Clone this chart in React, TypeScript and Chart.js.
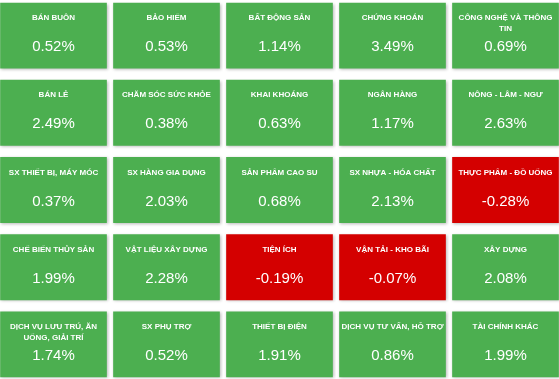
import React, { useEffect, useRef } from 'react';
import { Chart, registerables } from 'chart.js';

Chart.register(...registerables);

// Sector names in grid order (row by row, 5 per row)
const sectors = [
  'BÁN BUÔN', 'BẢO HIỂM', 'BẤT ĐỘNG SẢN', 'CHỨNG KHOÁN', 'CÔNG NGHỆ VÀ THÔNG TIN',
  'BÁN LẺ', 'CHĂM SÓC SỨC KHỎE', 'KHAI KHOÁNG', 'NGÂN HÀNG', 'NÔNG - LÂM - NGƯ',
  'SX THIẾT BỊ, MÁY MÓC', 'SX HÀNG GIA DỤNG', 'SẢN PHẨM CAO SU', 'SX NHỰA - HÓA CHẤT', 'THỰC PHẨM - ĐỒ UỐNG',
  'CHẾ BIẾN THỦY SẢN', 'VẬT LIỆU XÂY DỰNG', 'TIỆN ÍCH', 'VẬN TẢI - KHO BÃI', 'XÂY DỰNG',
  'DỊCH VỤ LƯU TRÚ, ĂN UỐNG, GIẢI TRÍ', 'SX PHỤ TRỢ', 'THIẾT BỊ ĐIỆN', 'DỊCH VỤ TƯ VẤN, HỖ TRỢ', 'TÀI CHÍNH KHÁC',
];

// % change for each sector, same order
const changes = [
  0.52, 0.53, 1.14, 3.49, 0.69,
  2.49, 0.38, 0.63, 1.17, 2.63,
  0.37, 2.03, 0.68, 2.13, -0.28,
  1.99, 2.28, -0.19, -0.07, 2.08,
  1.74, 0.52, 1.91, 0.86, 1.99,
];

const columns = ['C1', 'C2', 'C3', 'C4', 'C5'];
const rows = ['R1', 'R2', 'R3', 'R4', 'R5'];

const GREEN = '#4CAF50';
const RED = '#D40000';
const FONT = '"Liberation Sans", Arial, Helvetica, sans-serif';

function wrapText(ctx: CanvasRenderingContext2D, text: string, maxWidth: number): string[] {
  const words = text.split(' ');
  const lines: string[] = [];
  let cur = '';
  for (const w of words) {
    const test = cur ? cur + ' ' + w : w;
    if (cur && ctx.measureText(test).width > maxWidth) {
      lines.push(cur);
      cur = w;
    } else {
      cur = test;
    }
  }
  if (cur) lines.push(cur);
  return lines;
}

const GAP_X = 3.5;
const GAP_Y = 6;

const tilePlugin = {
  id: 'tileText',
  beforeDatasetDraw(chart: any) {
    const ctx = chart.ctx;
    ctx.save();
    ctx.shadowColor = 'rgba(0,0,0,0.28)';
    ctx.shadowBlur = 3;
    ctx.shadowOffsetX = 1;
    ctx.shadowOffsetY = 1;
  },
  afterDatasetDraw(chart: any) {
    chart.ctx.restore();
  },
  afterDatasetsDraw(chart: any) {
    const ctx: CanvasRenderingContext2D = chart.ctx;
    ctx.save();
    ctx.fillStyle = '#ffffff';
    ctx.textAlign = 'center';
    ctx.textBaseline = 'middle';
    chart.data.datasets.forEach((_ds: any, r: number) => {
      const meta = chart.getDatasetMeta(r);
      meta.data.forEach((bar: any, c: number) => {
        const p = bar.getProps(['x', 'y', 'base', 'width'], true);
        const top = Math.min(p.y, p.base) + GAP_Y;
        const i = r * columns.length + c;
        ctx.font = 'bold 8px ' + FONT;
        const lines = wrapText(ctx, sectors[i], p.width - GAP_X * 2 - 2);
        lines.forEach((ln, k) => ctx.fillText(ln, p.x, top + 15 + k * 10.5));
        ctx.font = '15px ' + FONT;
        ctx.fillText(changes[i].toFixed(2) + '%', p.x, top + 44);
      });
    });
    ctx.restore();
  },
};

export default function App() {
  const ref = useRef<HTMLCanvasElement | null>(null);

  useEffect(() => {
    document.body.style.margin = '0';
    document.body.style.overflow = 'hidden';
    document.body.style.background = '#ffffff';
    if (!ref.current) return;
    const datasets = rows.map((_row, r) => ({
      label: rows[r],
      data: columns.map(() => [r, r + 1]),
      backgroundColor: columns.map((_c, c) => (changes[r * columns.length + c] >= 0 ? GREEN : RED)),
      borderColor: 'rgba(0,0,0,0)',
      borderWidth: { top: GAP_Y, bottom: GAP_Y, left: GAP_X, right: GAP_X },
      borderSkipped: false as const,
      grouped: false,
      barPercentage: 1,
      categoryPercentage: 1,
    }));
    const chart = new Chart(ref.current, {
      type: 'bar',
      data: { labels: columns, datasets: datasets as any },
      options: {
        animation: false,
        responsive: false,
        maintainAspectRatio: false,
        layout: { padding: 0 },
        plugins: {
          legend: { display: false },
          tooltip: { enabled: false },
        },
        scales: {
          x: { type: 'category', display: false, offset: true, grid: { display: false } },
          y: { type: 'linear', display: false, reverse: true, min: 0, max: rows.length, grid: { display: false } },
        },
      },
      plugins: [tilePlugin],
    });
    return () => chart.destroy();
  }, []);

  return (
    <div style={{ position: 'absolute', left: -3, top: -3, width: 565, height: 386 }}>
      <canvas ref={ref} width={565} height={386} style={{ width: 565, height: 386, display: 'block' }} />
    </div>
  );
}
